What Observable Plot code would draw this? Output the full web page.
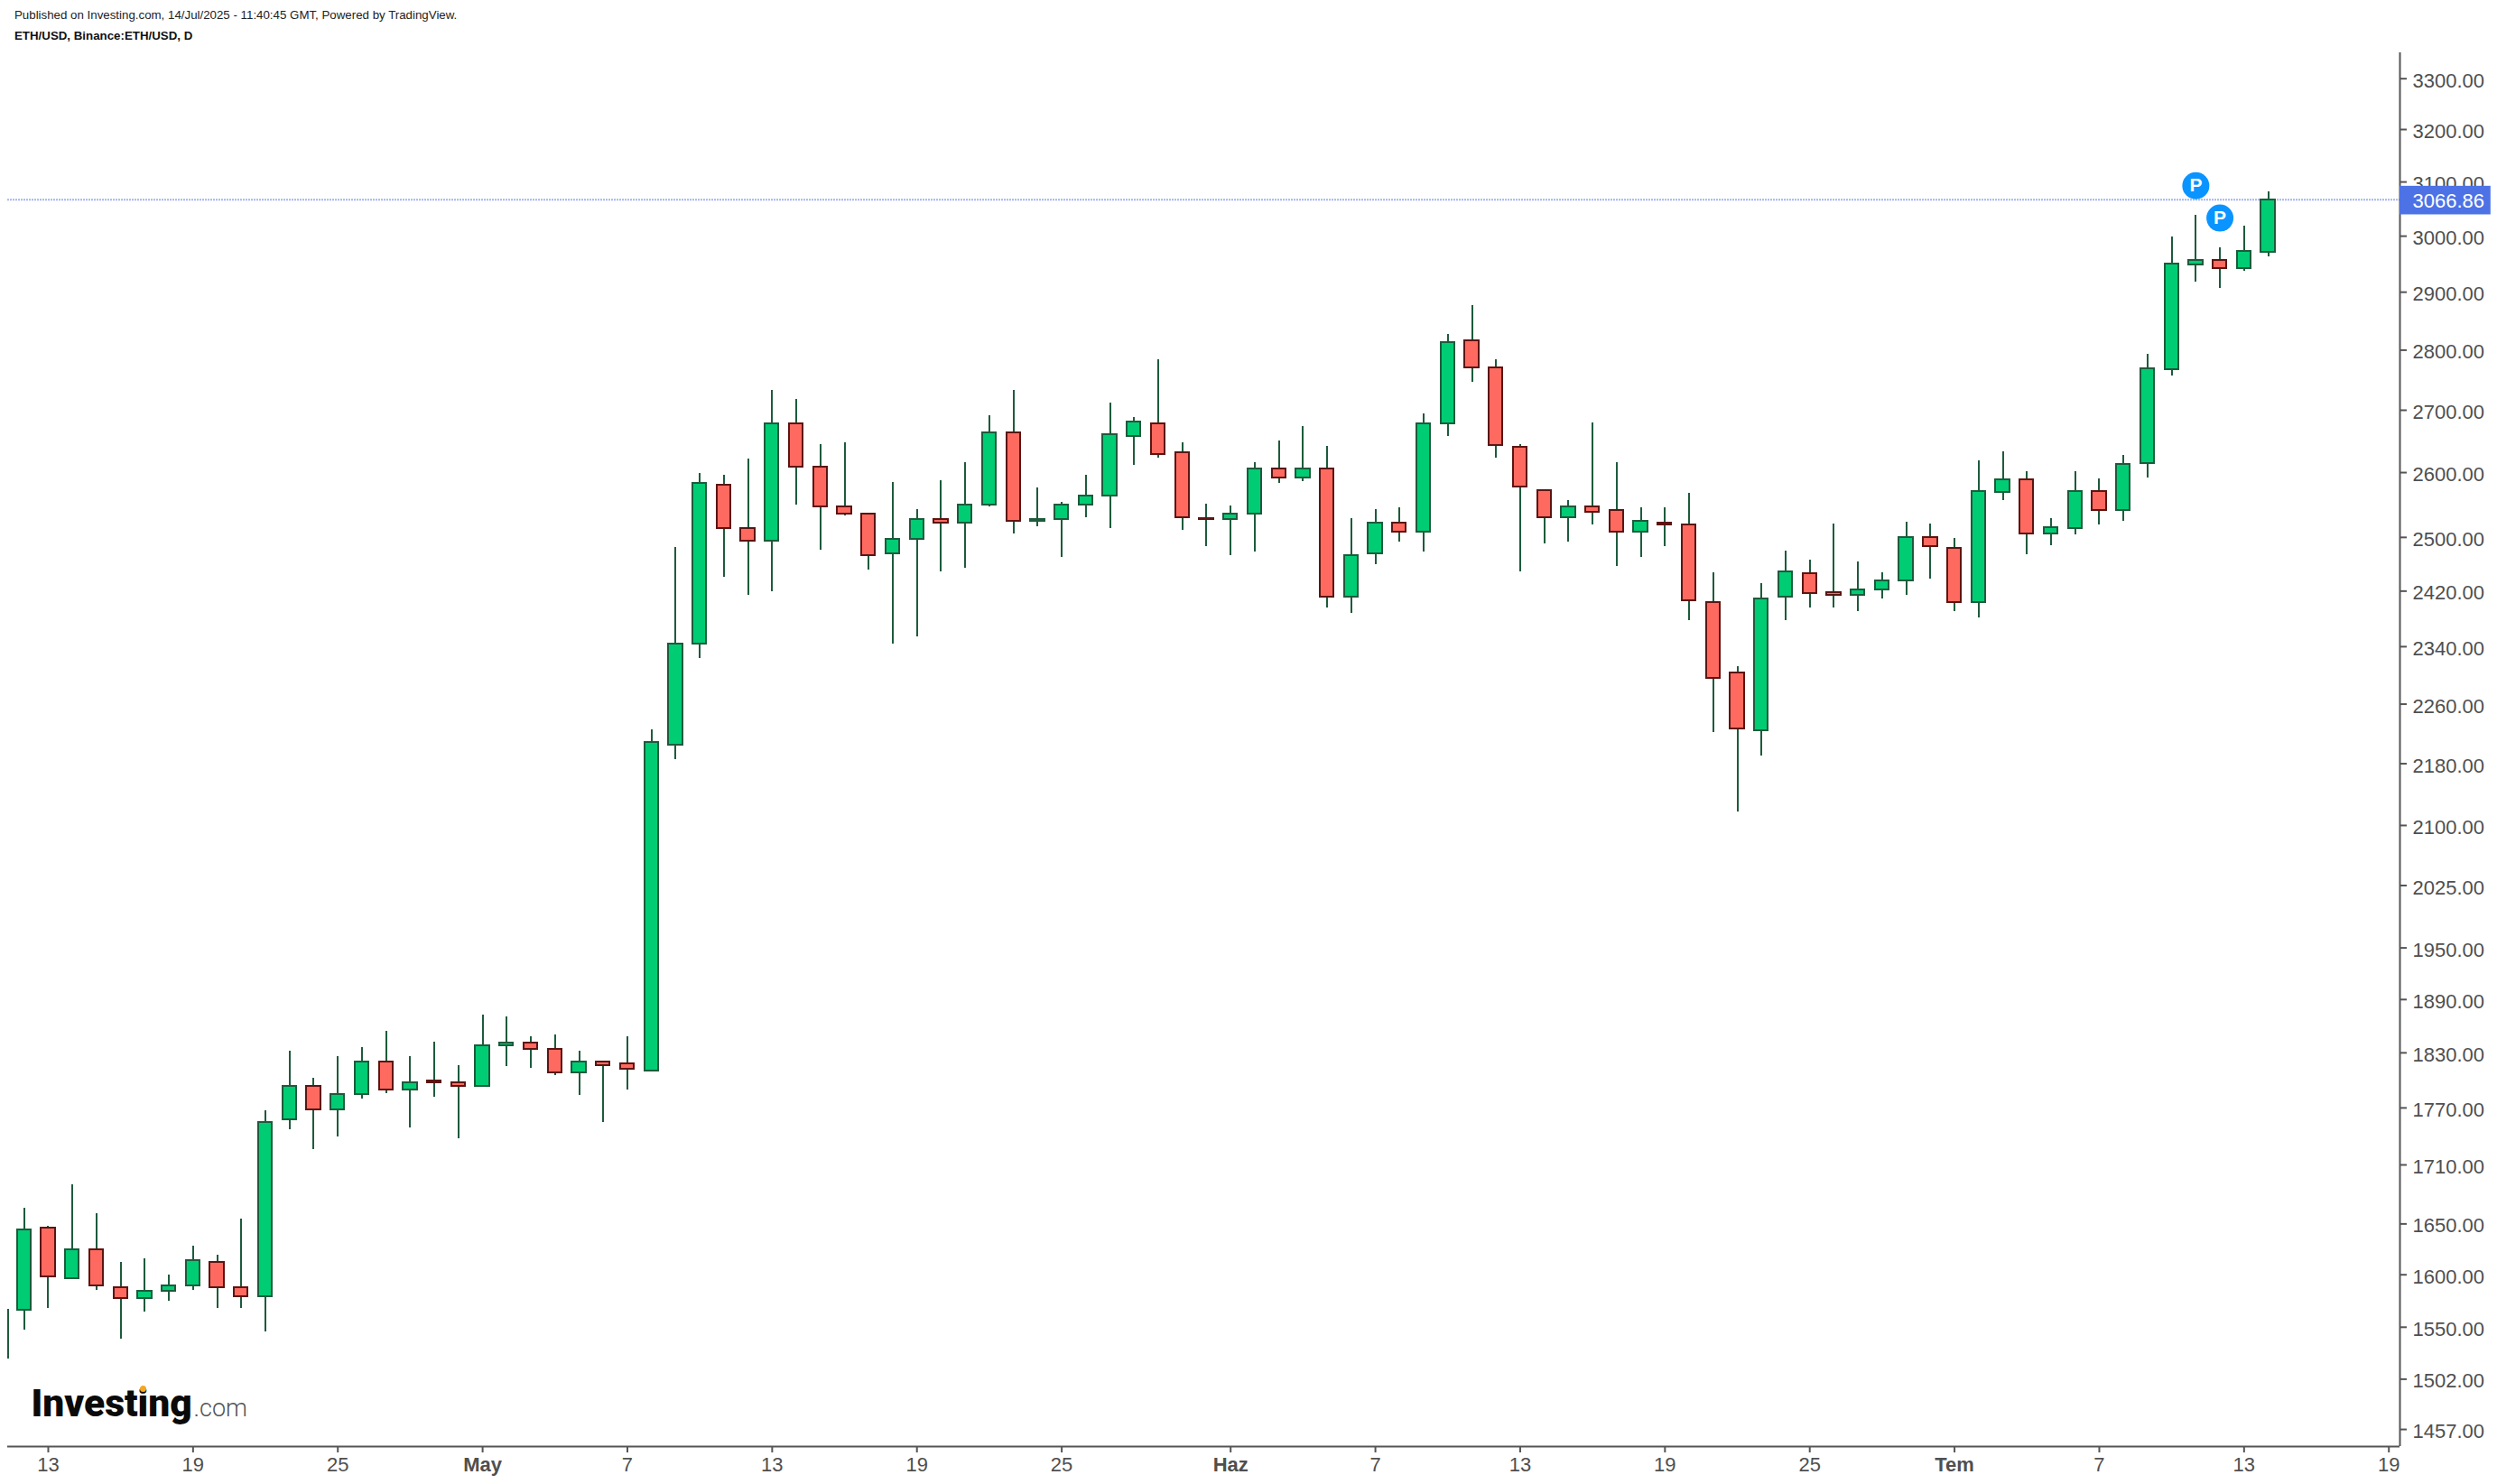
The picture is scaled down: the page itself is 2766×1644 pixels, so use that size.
<!DOCTYPE html>
<html>
<head>
<meta charset="utf-8">
<script src="https://cdn.jsdelivr.net/npm/d3@7"></script>
<script src="https://cdn.jsdelivr.net/npm/@observablehq/plot@0.6"></script>
<style>
html,body{margin:0;padding:0;background:#fff;overflow:hidden}
#head{position:relative;height:48px;font-family:"Liberation Sans",Arial,sans-serif;color:#222}
#head div{position:absolute;left:16px;white-space:nowrap;font-size:13.3px;line-height:16px}
#l1{top:9px}
#l2{top:32px;font-weight:bold;color:#111}
svg{display:block}
</style>
</head>
<body>
<div id="head">
<div id="l1">Published on Investing.com, 14/Jul/2025 - 11:40:45 GMT, Powered by TradingView.</div>
<div id="l2">ETH/USD, Binance:ETH/USD, D</div>
</div>
<script>
const dates = ["04-11T08:30","04-12","04-13","04-14","04-15","04-16","04-17","04-18","04-19","04-20","04-21","04-22","04-23","04-24","04-25","04-26","04-27","04-28","04-29","04-30",
"05-01","05-02","05-03","05-04","05-05","05-06","05-07","05-08","05-09","05-10","05-11","05-12","05-13","05-14","05-15","05-16","05-17","05-18","05-19","05-20","05-21","05-22","05-23","05-24","05-25","05-26","05-27","05-28","05-29","05-30","05-31",
"06-01","06-02","06-03","06-04","06-05","06-06","06-07","06-08","06-09","06-10","06-11","06-12","06-13","06-14","06-15","06-16","06-17","06-18","06-19","06-20","06-21","06-22","06-23","06-24","06-25","06-26","06-27","06-28","06-29","06-30",
"07-01","07-02","07-03","07-04","07-05","07-06","07-07","07-08","07-09","07-10","07-11","07-12","07-13","07-14"];
const opens = [null,1566.4,1645.5,1595.9,1624.1,1587.2,1576.8,1583.7,1589,1611.6,1587.2,1578.5,1756.9,1793.7,1768.4,1784,1819.5,1789.8,1799.6,1797.6,
1793.7,1837.4,1841.3,1833.4,1807.5,1819.5,1817.5,1809.5,2205.1,2344.2,2580.8,2513.9,2494.6,2678.4,2609.1,2547.1,2536,2475.7,2497.3,2527.8,2522.2,2549.9,2663.8,2525,2527.8,2549.9,2563.7,2658,2678.4,2631.8,2528.7,
2527.8,2536,2606.3,2592.1,2606.3,2411.6,2475.7,2522.2,2508.4,2678.4,2816.4,2770.5,2640.5,2572.2,2530.5,2547.1,2541.6,2508.4,2522.2,2519.5,2403.8,2303.4,2224.4,2411.6,2446.2,2417.8,2414.2,2422,2435.4,2500.1,
2484,2404,2568.8,2589.2,2505.6,2513.4,2570,2541,2614.5,2767.7,2948.2,2956.3,2942.3,2971.5];
const highs = [1567.2,1666,1647.9,1689.8,1660.5,1612.2,1615.8,1600,1628.3,1619.4,1655,1767.2,1832.1,1802.3,1826.1,1836.1,1854.1,1826.1,1842,1816.2,
1872.6,1870.5,1848,1850.1,1832.1,1819.5,1848,2225.6,2484.7,2598.7,2595.9,2621.4,2732.6,2717.6,2644.4,2647.3,2536,2584.6,2542.5,2587,2615.8,2691.1,2732.6,2576,2553.6,2595.9,2711.6,2688.2,2784,2647.3,2550.8,
2548.1,2615.8,2650.3,2673.6,2641.4,2528.7,2542.5,2545.3,2694,2826.7,2876.5,2783.6,2644.4,2572.2,2556.4,2679.4,2615.8,2545.3,2545.3,2567.5,2447,2312,2431,2479.4,2465.9,2520.4,2463.2,2447,2523.2,2520.4,
2498.7,2618.5,2632.6,2601.3,2529.3,2601.3,2590,2627.7,2792.6,2998.1,3038.1,2979.5,3017.8,3081.1];
const lows = [1520.4,1547.2,1567.5,1595.9,1584.9,1538.8,1564.1,1574.4,1584.9,1567.5,1567.5,1545.6,1746.5,1725.8,1739,1779.4,1785.3,1748.4,1781.4,1737.1,
1793.7,1814.8,1812.8,1804.9,1783.3,1754.2,1789.1,1809.5,2185.8,2322.9,2439.8,2413.3,2418.6,2548.9,2480.2,2532.3,2450.6,2343.3,2353.5,2447.9,2453.3,2546.1,2504.7,2515.8,2469.4,2529.5,2513,2610.9,2622.3,2510.3,2485.5,
2472.1,2477.5,2582.6,2585.4,2395.4,2387.2,2458.7,2493.6,2477.5,2657,2745.5,2622.3,2447.9,2490.9,2493.6,2518.5,2456,2469.4,2485.5,2376.8,2221.1,2116.8,2189.8,2376.8,2395.4,2395.4,2389.9,2408.1,2413.3,2437.2,
2390.1,2381.7,2556.9,2474.5,2488,2504.5,2518.3,2524.3,2591.2,2756.9,2918.4,2906.1,2937.7,2963.3];
const closes = [null,1643.7,1597.7,1624.1,1589,1576.8,1583.7,1589,1613.4,1587.2,1578.5,1754.9,1793.7,1768.4,1784,1819.5,1789.8,1797.6,1797.6,1793.7,
1837.4,1841.3,1833.4,1807.5,1819.5,1815.5,1811.5,2207.9,2344.2,2583.6,2513.9,2494.6,2678.4,2609.1,2547.1,2536,2473,2497.3,2527.8,2522.2,2549.9,2663.8,2525,2527.8,2549.9,2563.7,2660.9,2681.3,2629,2530.5,2527.8,
2536,2606.3,2592.1,2606.3,2411.6,2473,2522.2,2508.4,2678.4,2813.3,2770.5,2643.4,2577.9,2530.5,2547.1,2538.8,2508.4,2525,2519.5,2406.4,2295.9,2226.8,2409,2448.8,2416.9,2414.2,2422,2435.4,2500.1,2486.5,
2404,2570,2589.2,2505.6,2514.5,2570,2541,2612.5,2768.7,2949.3,2956.3,2942.3,2972.6,3066.86];

const axisTicksY = [3300,3200,3100,3000,2900,2800,2700,2600,2500,2420,2340,2260,2180,2100,2025,1950,1890,1830,1770,1710,1650,1600,1550,1502,1457];
const dayTicks = ["04-13","04-19","04-25","05-07","05-13","05-19","05-25","06-07","06-13","06-19","06-25","07-07","07-13","07-19"];
const monthTicks = ["05-01","06-01","07-01"];
const monthNames = ["May","Haz","Tem"];
const lastPrice = 3066.86;
const pinDates = ["07-11","07-12"];
const pinPrices = [3093,3033];

const D = s => new Date("2025-" + s + (s.includes("T") ? ":00Z" : "T00:00:00Z"));
const candles = dates.map((d,i)=>({date:D(d),open:opens[i],high:highs[i],low:lows[i],close:closes[i]}));
const bodies = candles.filter(d=>d.open!==null);
const up = bodies.filter(d=>d.close>=d.open);
const down = bodies.filter(d=>d.close<d.open);
const pins = pinDates.map((d,i)=>({date:D(d),price:pinPrices[i]}));
const halfBody = 0.286*864e5;
const x1 = d=>new Date(+d.date-halfBody), x2 = d=>new Date(+d.date+halfBody);
const xMin = new Date("2025-04-11T07:37:00Z"), xMax = new Date("2025-07-19T11:02:00Z"), xTag = new Date("2025-07-23T05:31:00Z");
const font = "Liberation Sans";
const gFill="#00cc74", gDark="#1d5b3c", rFill="#ff6a60", rDark="#5c1512", axisC="#555555", textC="#4f4f4f";
const crisp = "crispEdges";

const plot = Plot.plot({
  width:2766, height:1596, marginTop:10, marginBottom:42, marginLeft:8, marginRight:108,
  style:{fontFamily:font, fontSize:"22px", background:"#fff"},
  x:{type:"utc", domain:[xMin,xMax]},
  y:{type:"log", domain:[1442,3352.1]},
  marks:[
    Plot.ruleY([lastPrice],{stroke:"#a6b5ee",strokeWidth:2,strokeDasharray:"2,1"}),
    Plot.ruleX(candles,{x:"date",y1:"low",y2:"high",stroke:gDark,strokeWidth:2,shapeRendering:crisp}),
    Plot.rect(up,{x1,x2,y1:"open",y2:"close",fill:gFill,stroke:gDark,strokeWidth:2,shapeRendering:crisp}),
    Plot.rect(down,{x1,x2,y1:"open",y2:"close",fill:rFill,stroke:rDark,strokeWidth:2,shapeRendering:crisp}),
    Plot.ruleX([xMax],{stroke:axisC,strokeWidth:2}),
    Plot.ruleY([1442],{stroke:axisC,strokeWidth:2}),
    Plot.axisY(axisTicksY,{anchor:"right",label:null,tickSize:7,stroke:axisC,strokeWidth:2,fill:"none",tickFormat:d=>d.toFixed(2)}),
    Plot.axisY(axisTicksY,{anchor:"right",label:null,tickSize:0,tickPadding:14,dy:2.5,fill:textC,fontSize:22,tickFormat:d=>d.toFixed(2)}),
    Plot.axisX(dayTicks.map(D),{label:null,tickSize:7,tickPadding:5,stroke:axisC,strokeWidth:2,fill:textC,fontSize:22,tickFormat:d=>String(d.getUTCDate())}),
    Plot.axisX(monthTicks.map(D),{label:null,tickSize:7,tickPadding:5,stroke:axisC,strokeWidth:2,fill:textC,fontSize:22,fontWeight:"bold",tickFormat:(d,i)=>monthNames[i]}),
    Plot.rect([lastPrice],{x1:xMax,x2:xTag,y1:3039,y2:3092,fill:"#4c72e6"}),
    Plot.text([lastPrice],{x:xMax,y:d=>d,dy:2,dx:14,textAnchor:"start",text:d=>d.toFixed(2),fill:"#fff",fontSize:22}),
    Plot.dot(pins,{x:"date",y:"price",r:15,fill:"#0a94ff"}),
    Plot.text(pins,{x:"date",y:"price",text:()=>"P",fill:"#fff",fontWeight:"bold",fontSize:21}),
    Plot.text(["Investing"],{frameAnchor:"bottom-left",dx:26,dy:-34,lineAnchor:"bottom",textAnchor:"start",text:d=>d,fontFamily:"Roboto",fontWeight:900,fontSize:42.5,fill:"#0a0a0a"}),
    Plot.text([".com"],{frameAnchor:"bottom-left",dx:206,dy:-34,lineAnchor:"bottom",textAnchor:"start",text:d=>d,fontFamily:"Roboto",fontWeight:300,fontSize:27,fill:"#555"}),
    Plot.dot([0],{frameAnchor:"bottom-left",dx:150,dy:-64,r:3.5,fill:"#f5a623"})
  ]
});
document.body.appendChild(plot);
</script>
</body>
</html>
